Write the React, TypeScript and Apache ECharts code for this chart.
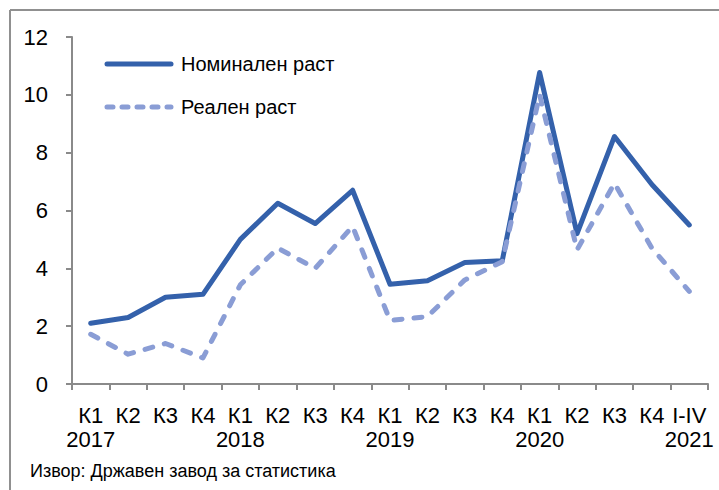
import React, { useEffect, useRef } from "react";
import * as echarts from "echarts";

const quarters = ["К1", "К2", "К3", "К4", "К1", "К2", "К3", "К4", "К1", "К2", "К3", "К4", "К1", "К2", "К3", "К4", "I-IV"];
const years = ["2017", "", "", "", "2018", "", "", "", "2019", "", "", "", "2020", "", "", "", "2021"];
const nominal = [2.1, 2.3, 3.0, 3.1, 5.0, 6.25, 5.55, 6.7, 3.45, 3.57, 4.2, 4.26, 10.77, 5.2, 8.56, 6.9, 5.5];
const real = [1.72, 1.03, 1.4, 0.9, 3.43, 4.7, 4.0, 5.45, 2.2, 2.33, 3.6, 4.23, 10.0, 4.64, 6.94, 4.7, 3.2];
const yTicks = [0, 2, 4, 6, 8, 10, 12];
const seriesNames = ["Номинален раст", "Реален раст"];
const sourceText = "Извор: Државен завод за статистика";

const FONT = "'Liberation Sans', Arial, sans-serif";
const NOM_COLOR = "#3461ab";
const REAL_COLOR = "#8a9dd5";
const AXIS_COLOR = "#8a8a8a";
const DASH = [8, 12];

export default function App() {
  const ref = useRef<HTMLDivElement>(null);
  useEffect(() => {
    if (!ref.current) return;
    const chart = echarts.init(ref.current, null, { renderer: "svg" });
    const categories = quarters.map((q, i) => (years[i] ? q + "\n" + years[i] : q));
    chart.setOption({
      animation: false,
      backgroundColor: "#ffffff",
      textStyle: { fontFamily: FONT },
      grid: { left: 72, right: 11, top: 37, bottom: 106, containLabel: false },
      legend: { show: false },
      xAxis: {
        type: "category",
        data: categories,
        boundaryGap: true,
        axisLine: { lineStyle: { color: AXIS_COLOR, width: 2 } },
        axisTick: { show: true, length: 6, inside: false, lineStyle: { color: AXIS_COLOR, width: 2 } },
        axisLabel: {
          interval: 0,
          margin: 19,
          fontFamily: FONT,
          fontSize: 22,
          lineHeight: 24,
          color: "#000",
        },
        splitLine: { show: false },
      },
      yAxis: {
        type: "value",
        min: yTicks[0],
        max: yTicks[yTicks.length - 1],
        interval: 2,
        axisLine: { show: true, lineStyle: { color: AXIS_COLOR, width: 2 } },
        axisTick: { show: true, length: 6, lineStyle: { color: AXIS_COLOR, width: 2 } },
        axisLabel: { margin: 24, fontFamily: FONT, fontSize: 22, color: "#000" },
        splitLine: { show: false },
      },
      series: [
        {
          name: seriesNames[0],
          type: "line",
          data: nominal,
          symbol: "none",
          color: NOM_COLOR,
          lineStyle: { color: NOM_COLOR, width: 5, cap: "round", join: "round" },
        },
        {
          name: seriesNames[1],
          type: "line",
          data: real,
          symbol: "none",
          color: REAL_COLOR,
          lineStyle: { color: REAL_COLOR, width: 5, type: DASH, cap: "round", join: "round" },
        },
      ],
      graphic: [
        { type: "line", shape: { x1: 10, y1: 10, x2: 719, y2: 10 }, style: { stroke: "#909090", lineWidth: 2 } },
        { type: "line", shape: { x1: 10, y1: 10, x2: 10, y2: 490 }, style: { stroke: "#909090", lineWidth: 2 } },
        {
          type: "line",
          shape: { x1: 107, y1: 64, x2: 171, y2: 64 },
          style: { stroke: NOM_COLOR, lineWidth: 5, lineCap: "round" },
        },
        {
          type: "text",
          x: 181,
          y: 64,
          style: { text: seriesNames[0], fontFamily: FONT, fontSize: 20, fill: "#000", verticalAlign: "middle" },
        },
        {
          type: "line",
          shape: { x1: 107, y1: 107, x2: 171, y2: 107 },
          style: { stroke: REAL_COLOR, lineWidth: 5, lineCap: "round", lineDash: [6, 9] },
        },
        {
          type: "text",
          x: 181,
          y: 107,
          style: { text: seriesNames[1], fontFamily: FONT, fontSize: 20, fill: "#000", verticalAlign: "middle" },
        },
        {
          type: "text",
          x: 30,
          y: 471,
          style: { text: sourceText, fontFamily: FONT, fontSize: 18, fill: "#000", verticalAlign: "middle" },
        },
      ],
    });
    return () => chart.dispose();
  }, []);
  return <div ref={ref} style={{ position: "fixed", left: 0, top: 0, width: 719, height: 490 }} />;
}
